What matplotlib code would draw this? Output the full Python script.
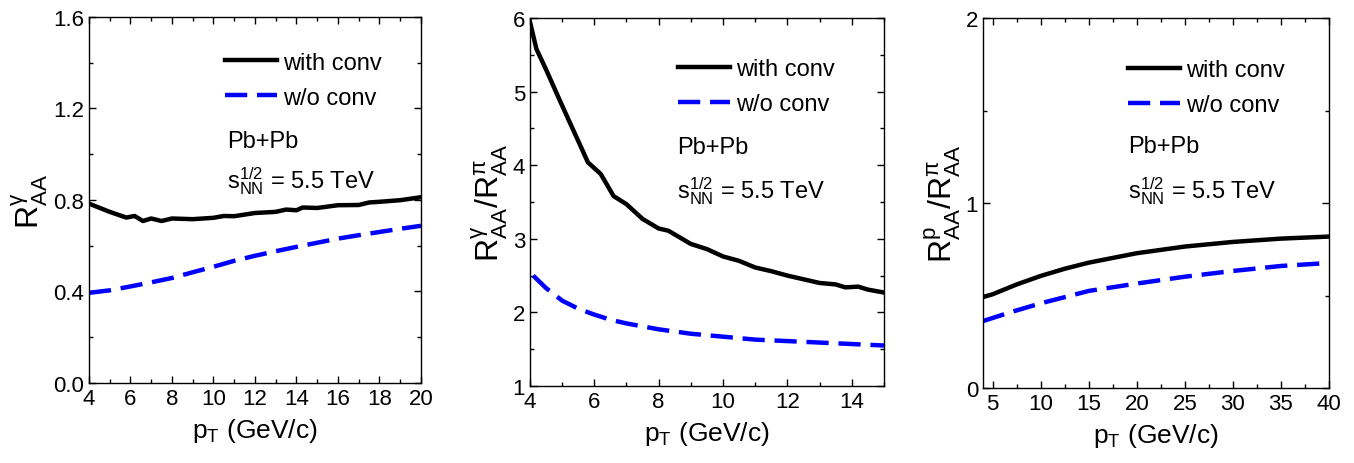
import matplotlib
matplotlib.use("Agg")
import matplotlib.pyplot as plt
from matplotlib.ticker import MultipleLocator

plt.rcParams["font.family"] = ["Liberation Sans", "DejaVu Sans"]
plt.rcParams["mathtext.fontset"] = "custom"
plt.rcParams["mathtext.rm"] = "Liberation Sans"
plt.rcParams["mathtext.it"] = "Liberation Sans:italic"
plt.rcParams["mathtext.default"] = "rm"

# panel 1: R_AA^gamma vs pT
P1_PT_WITH = [4.0, 5.0, 5.8, 6.2, 6.6, 7.0, 7.5, 8.0, 9.0, 10.0, 10.5, 11.0, 12.0,
              13.0, 13.5, 14.0, 14.3, 15.0, 16.0, 17.0, 17.5, 18.0, 19.0, 20.0]
P1_WITH = [0.784, 0.748, 0.723, 0.730, 0.708, 0.719, 0.708, 0.719, 0.716, 0.722, 0.730,
           0.729, 0.743, 0.748, 0.758, 0.755, 0.767, 0.765, 0.777, 0.778, 0.789, 0.792,
           0.799, 0.812]
P1_PT_WO = [4, 5, 6, 7, 8, 9, 10, 11, 12, 13, 14, 15, 16, 17, 18, 19, 20]
P1_WO = [0.394, 0.405, 0.422, 0.440, 0.459, 0.484, 0.508, 0.534, 0.556, 0.576, 0.595,
         0.613, 0.631, 0.646, 0.660, 0.674, 0.687]

# panel 2: R_AA^gamma / R_AA^pi vs pT
P2_PT_WITH = [4.0, 4.2, 4.5, 5.0, 5.5, 5.8, 6.2, 6.6, 7.0, 7.5, 8.0, 8.3, 9.0, 9.5,
              10.0, 10.5, 11.0, 11.5, 12.0, 12.5, 13.0, 13.5, 13.8, 14.2, 14.5, 15.0]
P2_WITH = [5.95, 5.58, 5.30, 4.81, 4.33, 4.04, 3.88, 3.58, 3.47, 3.27, 3.14, 3.11,
           2.93, 2.86, 2.76, 2.70, 2.61, 2.56, 2.50, 2.45, 2.40, 2.38, 2.34, 2.35,
           2.31, 2.27]
P2_PT_WO = [4.1, 4.5, 5, 5.5, 6, 6.5, 7, 7.5, 8, 9, 10, 11, 12, 13, 14, 15]
P2_WO = [2.50, 2.33, 2.16, 2.05, 1.97, 1.90, 1.85, 1.81, 1.77, 1.71, 1.67, 1.63, 1.61,
         1.59, 1.57, 1.55]

# panel 3: R_AA^p / R_AA^pi vs pT
P3_PT_WITH = [4, 5, 7.5, 10, 12.5, 15, 20, 25, 30, 35, 40]
P3_WITH = [0.492, 0.507, 0.560, 0.606, 0.645, 0.678, 0.729, 0.765, 0.790, 0.808, 0.819]
P3_PT_WO = [4, 7, 10, 15, 20, 25, 30, 35, 39]
P3_WO = [0.362, 0.412, 0.458, 0.525, 0.565, 0.602, 0.633, 0.660, 0.673]

LABELS = ["with conv", "w/o conv"]
ENERGY = r"$\mathrm{s}_{\mathrm{NN}}^{1/2}$ = 5.5 TeV"

fig = plt.figure(figsize=(13.54, 4.64), dpi=100)

panels = [
    dict(rect=[0.0657, 0.1724, 0.2452, 0.789], xlim=(4, 20), ylim=(0, 1.6),
         xmaj=2, xmin=1, ymaj=0.4, ymin=0.2, yfmt="{:.1f}",
         ylabel=r"$\mathrm{R}^{\gamma}_{\mathrm{AA}}$",
         data=(P1_PT_WITH, P1_WITH, P1_PT_WO, P1_WO),
         leg=(0.41, 0.905), txt=(0.416, 0.662, 0.535)),
    dict(rect=[0.3914, 0.166, 0.2614, 0.793], xlim=(4, 15), ylim=(1, 6),
         xmaj=2, xmin=1, ymaj=1, ymin=0.5, yfmt="{:.0f}",
         ylabel=r"$\mathrm{R}^{\gamma}_{\mathrm{AA}}/\mathrm{R}^{\pi}_{\mathrm{AA}}$",
         data=(P2_PT_WITH, P2_WITH, P2_PT_WO, P2_WO),
         leg=(0.418, 0.89), txt=(0.415, 0.65, 0.513)),
    dict(rect=[0.726, 0.1616, 0.2555, 0.797], xlim=(4, 40), ylim=(0, 2),
         xmaj=5, xmin=2.5, ymaj=1, ymin=0.5, yfmt="{:.0f}",
         ylabel=r"$\mathrm{R}^{\mathrm{p}}_{\mathrm{AA}}/\mathrm{R}^{\pi}_{\mathrm{AA}}$",
         data=(P3_PT_WITH, P3_WITH, P3_PT_WO, P3_WO),
         leg=(0.419, 0.89), txt=(0.42, 0.655, 0.516)),
]

for p in panels:
    ax = fig.add_axes(p["rect"])
    xw, yw, xo, yo = p["data"]
    ax.plot(xw, yw, color="black", lw=3.2, label=LABELS[0])
    ax.plot(xo, yo, color="#0000ff", lw=3.2, dashes=(5, 2.2), label=LABELS[1])
    ax.set_xlim(*p["xlim"])
    ax.set_ylim(*p["ylim"])
    ax.xaxis.set_major_locator(MultipleLocator(p["xmaj"]))
    ax.xaxis.set_minor_locator(MultipleLocator(p["xmin"]))
    ax.yaxis.set_major_locator(MultipleLocator(p["ymaj"]))
    ax.yaxis.set_minor_locator(MultipleLocator(p["ymin"]))
    ax.yaxis.set_major_formatter(plt.FuncFormatter(lambda v, _, f=p["yfmt"]: f.format(v)))
    ax.tick_params(which="both", direction="in", top=True, right=True, labelsize=16)
    ax.tick_params(which="major", length=5, width=1)
    ax.tick_params(which="minor", length=3, width=1)
    for s in ax.spines.values():
        s.set_linewidth(1)
    ax.set_xlabel(r"p$_\mathrm{T}$ (GeV/c)", fontsize=19, labelpad=5)
    ax.set_ylabel(p["ylabel"], fontsize=23, labelpad=2)
    ax.legend(loc="upper left", bbox_to_anchor=p["leg"], frameon=False, fontsize=17,
              handlelength=2.2, handletextpad=0.25, labelspacing=0.55,
              borderaxespad=0, borderpad=0)
    tx, ty1, ty2 = p["txt"]
    ax.text(tx, ty1, "Pb+Pb", transform=ax.transAxes, fontsize=17, va="center")
    ax.text(tx, ty2, ENERGY, transform=ax.transAxes, fontsize=17, va="baseline")

fig.savefig("out.png", dpi=100)
